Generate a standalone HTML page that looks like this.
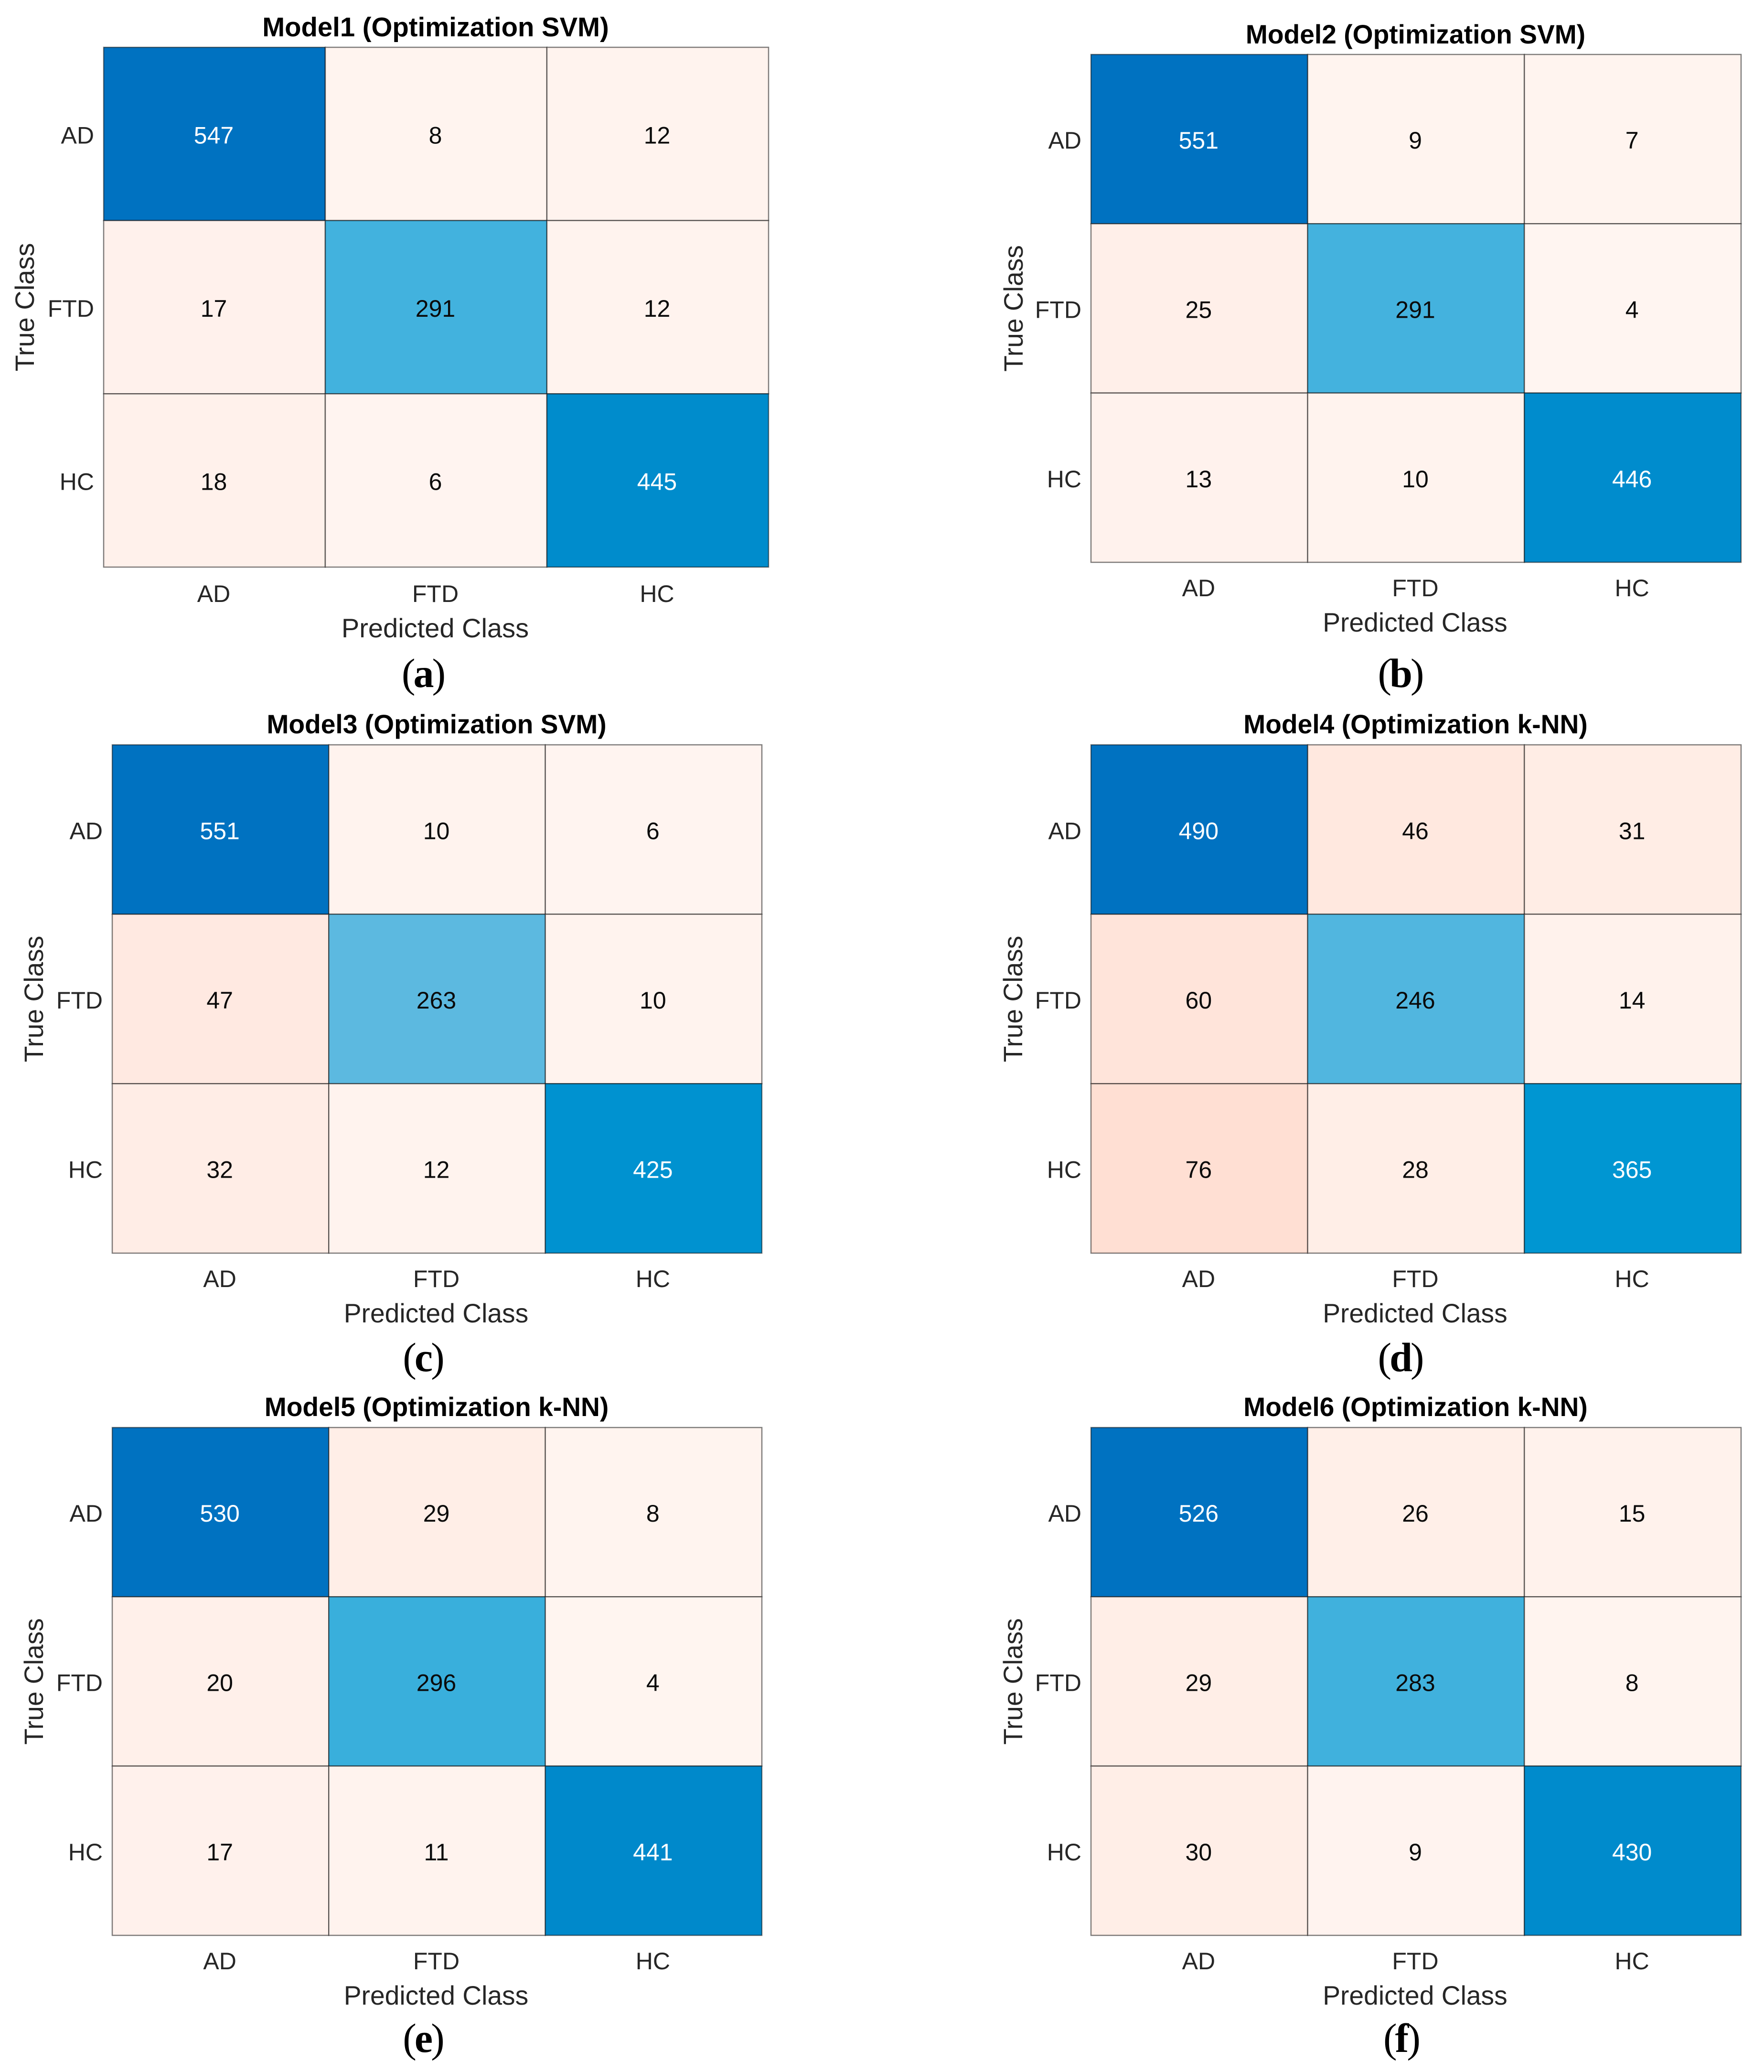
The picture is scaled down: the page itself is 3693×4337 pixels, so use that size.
<!DOCTYPE html>
<html lang="en">
<head>
<meta charset="utf-8">
<title>Confusion matrices for six optimized models</title>
<style>
html,body{margin:0;padding:0;background:#fff;}
svg{display:block;}
text{font-family:"Liberation Sans",Arial,sans-serif;}
.caption{font-family:"Liberation Serif","Times New Roman",serif;letter-spacing:-4px;}
</style>
</head>
<body>
<svg id="figure" xmlns="http://www.w3.org/2000/svg" width="3693" height="4337" viewBox="0 0 3693 4337"></svg>
<script>
// ---------- Data ----------
const categories = ['AD', 'FTD', 'HC'];
const titles = [
  'Model1 (Optimization SVM)',
  'Model2 (Optimization SVM)',
  'Model3 (Optimization SVM)',
  'Model4 (Optimization k-NN)',
  'Model5 (Optimization k-NN)',
  'Model6 (Optimization k-NN)'
];
const captionLetters = ['a', 'b', 'c', 'd', 'e', 'f'];
const xAxisTitle = 'Predicted Class';
const yAxisTitle = 'True Class';
const model1Counts = [[547, 8, 12], [17, 291, 12], [18, 6, 445]];
const model2Counts = [[551, 9, 7], [25, 291, 4], [13, 10, 446]];
const model3Counts = [[551, 10, 6], [47, 263, 10], [32, 12, 425]];
const model4Counts = [[490, 46, 31], [60, 246, 14], [76, 28, 365]];
const model5Counts = [[530, 29, 8], [20, 296, 4], [17, 11, 441]];
const model6Counts = [[526, 26, 15], [29, 283, 8], [30, 9, 430]];
const allCounts = [model1Counts, model2Counts, model3Counts, model4Counts, model5Counts, model6Counts];

// ---------- Layout (kept apart from the data) ----------
const panelLayouts = [
  {left: 217,  right: 1609, top: 99,   bottom: 1187, yTitleX: 71,   capX: 885,  capY: 1438, titleSize: 56.3, labelSize: 56, tickSize: 50, xTick: 73, xTitle: 147, titleGap: 23},
  {left: 2284, right: 3645, top: 114,  bottom: 1177, yTitleX: 2141, capX: 2931, capY: 1438, titleSize: 55.2, labelSize: 55.2, tickSize: 50, xTick: 71, xTitle: 145, titleGap: 23},
  {left: 235,  right: 1595, top: 1559, bottom: 2623, yTitleX: 90,   capX: 885,  capY: 2870, titleSize: 55.2, labelSize: 55.2, tickSize: 50, xTick: 71, xTitle: 145, titleGap: 24},
  {left: 2284, right: 3645, top: 1559, bottom: 2623, yTitleX: 2140, capX: 2931, capY: 2870, titleSize: 55.2, labelSize: 55.2, tickSize: 50, xTick: 71, xTitle: 145, titleGap: 24},
  {left: 235,  right: 1595, top: 2988, bottom: 4051, yTitleX: 90,   capX: 885,  capY: 4295, titleSize: 55.2, labelSize: 55.2, tickSize: 50, xTick: 71, xTitle: 145, titleGap: 24},
  {left: 2284, right: 3645, top: 2988, bottom: 4051, yTitleX: 2140, capX: 2933, capY: 4295, titleSize: 55.2, labelSize: 55.2, tickSize: 50, xTick: 71, xTitle: 145, titleGap: 24}
];

// ---------- Colour scales (ratio of a count to the panel maximum) ----------
const diagonalStops = [
  [0.00, [255, 246, 242]], [0.47, [96, 186, 224]], [0.53, [67, 178, 222]], [0.56, [56, 175, 220]],
  [0.745, [0, 150, 210]], [0.83, [0, 137, 203]], [1.00, [0, 114, 193]]
];
const offDiagonalStops = [
  [0.00, [255, 246, 242]], [0.155, [255, 223, 211]], [1.00, [200, 60, 40]]
];
function colourAt(stops, ratio) {
  for (let i = 1; i < stops.length; i++) {
    if (ratio <= stops[i][0]) {
      const a = stops[i - 1], b = stops[i];
      const t = (ratio - a[0]) / (b[0] - a[0]);
      const c = a[1].map((v, k) => Math.round(v + (b[1][k] - v) * t));
      return 'rgb(' + c.join(',') + ')';
    }
  }
  return 'rgb(' + stops[stops.length - 1][1].join(',') + ')';
}

// ---------- Drawing ----------
const NS = 'http://www.w3.org/2000/svg';
const figure = document.getElementById('figure');
function svgEl(tag, parent, attrs) {
  const el = document.createElementNS(NS, tag);
  for (const key in attrs) el.setAttribute(key, attrs[key]);
  parent.appendChild(el);
  return el;
}

allCounts.forEach((counts, p) => {
  const L = panelLayouts[p];
  const modelId = 'model' + (p + 1);
  const n = categories.length;
  const xScale = i => L.left + (L.right - L.left) * i / n;
  const yScale = i => L.top + (L.bottom - L.top) * i / n;
  const bandW = (L.right - L.left) / n;
  const bandH = (L.bottom - L.top) / n;
  const maxCount = Math.max(...counts.flat());

  const panel = svgEl('g', figure, {});
  
  

  const title = svgEl('text', panel, {
    x: (L.left + L.right) / 2 - 1, y: L.top - L.titleGap, 'text-anchor': 'middle',
    'font-size': L.titleSize, 'font-weight': 'bold', fill: '#000'
  });
  title.textContent = titles[p];
  
  

  counts.forEach((rowValues, r) => {
    rowValues.forEach((value, c) => {
      const ratio = value / maxCount;
      const fillColour = r === c ? colourAt(diagonalStops, ratio) : colourAt(offDiagonalStops, ratio);
      const cell = svgEl('rect', panel, {
        x: xScale(c), y: yScale(r), width: bandW, height: bandH, fill: fillColour,
        stroke: '#000', 'stroke-opacity': 0.5, 'stroke-width': 2.5
      });
      
      
    });
  });

  counts.forEach((rowValues, r) => {
    rowValues.forEach((value, c) => {
      const ratio = value / maxCount;
      const label = svgEl('text', panel, {
        x: xScale(c) + bandW / 2 - 1.5, y: yScale(r) + bandH / 2 + 20, 'text-anchor': 'middle',
        'font-size': L.tickSize, fill: (r === c && ratio > 0.65) ? '#fff' : '#0a0a0a'
      });
      label.textContent = value;
      
      
    });
  });

  categories.forEach((cat, i) => {
    const xTick = svgEl('text', panel, {
      x: xScale(i) + bandW / 2 - 1.5, y: L.bottom + L.xTick, 'text-anchor': 'middle',
      'font-size': L.tickSize, fill: '#262626'
    });
    xTick.textContent = cat;
    
    

    const yTick = svgEl('text', panel, {
      x: L.left - 20, y: yScale(i) + bandH / 2 + 20, 'text-anchor': 'end',
      'font-size': L.tickSize, fill: '#262626'
    });
    yTick.textContent = cat;
    
    
  });

  const xTitle = svgEl('text', panel, {
    x: (L.left + L.right) / 2 - 2, y: L.bottom + L.xTitle, 'text-anchor': 'middle',
    'font-size': L.labelSize, fill: '#262626'
  });
  xTitle.textContent = xAxisTitle;
  
  

  const yCenter = (L.top + L.bottom) / 2;
  const yTitle = svgEl('text', panel, {
    x: 0, y: 0, 'text-anchor': 'middle', 'font-size': L.labelSize, fill: '#262626',
    transform: 'translate(' + L.yTitleX + ' ' + yCenter + ') rotate(-90)'
  });
  yTitle.textContent = yAxisTitle;
  
  

  const caption = svgEl('text', panel, {
    x: L.capX, y: L.capY, 'text-anchor': 'middle', 'font-size': 86, fill: '#000', 'class': 'caption'
  });
  
  
  svgEl('tspan', caption, {}).textContent = '(';
  svgEl('tspan', caption, {'font-weight': 'bold'}).textContent = captionLetters[p];
  svgEl('tspan', caption, {}).textContent = ')';
});
</script>
</body>
</html>
